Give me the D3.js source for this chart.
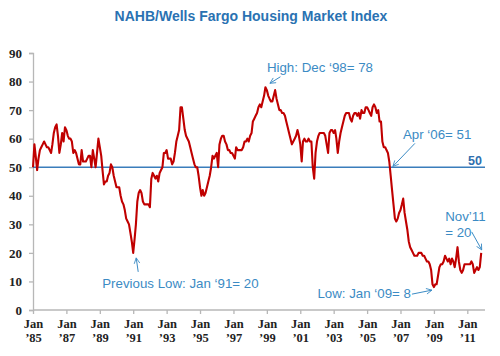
<!DOCTYPE html>
<html>
<head>
<meta charset="utf-8">
<script src="https://cdn.jsdelivr.net/npm/d3@7"></script>
<style>
  html, body { margin: 0; padding: 0; background: #ffffff; }
  svg { display: block; }
</style>
</head>
<body>
<svg id="chart" width="500" height="356"></svg>
<script>
// ---- DATA ----
const chartTitle = "NAHB/Wells Fargo Housing Market Index";
const startYear = 1985;           // first value = Jan 1985, monthly
const hmiValues = [
  // 1985
  50, 58, 54, 49, 53, 56, 57, 58, 59, 58, 57, 57,
  // 1986
  56, 55, 58, 62, 64, 65, 61, 55, 58, 62, 59, 64,
  // 1987
  63, 61, 60, 60, 59, 55, 56, 55, 53, 51, 51, 56,
  // 1988
  52, 52, 52, 53, 54, 54, 50, 56, 53, 50, 55, 60,
  // 1989
  57, 54, 49, 44, 45, 45, 47, 48, 51, 50, 47, 45,
  // 1990
  43, 43, 43, 40, 38, 37, 35, 32, 31, 30, 27, 24,
  // 1991
  20, 25, 30, 38, 41, 42, 41, 38, 37, 37, 37, 37,
  // 1992
  36, 46, 48, 47, 46, 47, 45, 48, 49, 50, 55, 55,
  // 1993
  56, 53, 53, 53, 51, 52, 55, 59, 61, 63, 71, 71,
  // 1994
  67, 63, 61, 60, 59, 57, 55, 53, 51, 50, 50, 47,
  // 1995
  43, 40, 42, 40, 41, 43, 45, 47, 50, 54, 53, 54,
  // 1996
  55, 50, 58, 60, 61, 61, 59, 58, 56, 56, 55, 55,
  // 1997
  54, 53, 57, 56, 56, 56, 56, 57, 59, 59, 60, 59,
  // 1998
  61, 62, 66, 67, 68, 69, 71, 72, 71, 73, 75, 78,
  // 1999
  77, 75, 74, 73, 73, 75, 77, 74, 72, 70, 70, 69,
  // 2000
  69, 68, 66, 64, 62, 60, 58, 59, 60, 61, 63, 61,
  // 2001
  58, 52, 59, 60, 59, 59, 60, 59, 59, 50, 46, 55,
  // 2002
  59, 61, 62, 62, 62, 62, 61, 58, 55, 62, 63, 63,
  // 2003
  62, 63, 60, 55, 59, 62, 64, 66, 68, 69, 69, 69,
  // 2004
  67, 66, 68, 69, 69, 68, 69, 67, 70, 69, 69, 71,
  // 2005
  71, 70, 69, 68, 71, 72, 71, 69, 70, 66, 66, 59,
  // 2006
  57, 57, 56, 55, 52, 47, 42, 37, 32, 31, 32, 34,
  // 2007
  35, 37, 39, 34, 31, 28, 24, 22, 21, 20, 19, 19,
  // 2008
  19, 20, 20, 20, 19, 19, 18, 17, 17, 16, 14, 9,
  // 2009
  8, 9, 9, 12, 15, 16, 16, 17, 19, 18, 17, 18,
  // 2010
  16, 18, 17, 15, 18, 22, 17, 14, 13, 14, 16, 16,
  // 2011 (Jan - Nov)
  16, 16, 16, 17, 16, 13, 14, 15, 14, 15, 20
];
const yTickValues = [0, 10, 20, 30, 40, 50, 60, 70, 80, 90];
const xTickYears = [1985, 1987, 1989, 1991, 1993, 1995, 1997, 1999, 2001, 2003, 2005, 2007, 2009, 2011];
const referenceValue = 50;
const annotationTexts = {
  high: "High: Dec \u201898= 78",
  prevLow: "Previous Low: Jan \u201891= 20",
  apr06: "Apr \u201806= 51",
  low09: "Low: Jan \u201809= 8",
  nov11a: "Nov\u201911",
  nov11b: "= 20"
};
const annotationPoints = {
  high: { year: 1998, month: 11, value: 78 },
  prevLow: { year: 1991, month: 0, value: 20 },
  apr06: { year: 2006, month: 3, value: 51 },
  low09: { year: 2009, month: 0, value: 8 },
  nov11: { year: 2011, month: 10, value: 20 }
};

// ---- LAYOUT ----
const svg = d3.select("#chart");
const mLeft = 33, mRight = 484, mTop = 53, mBottom = 310;

const data = hmiValues.map((v, i) => ({ date: new Date(startYear, i, 1), value: v }));

const x = d3.scaleTime()
  .domain([new Date(1985, 0, 1), new Date(2012, 0, 1)])
  .range([mLeft, mRight]);
const y = d3.scaleLinear().domain([0, 90]).range([mBottom, mTop]);

const axisColor = "#b7b7b7";
const lineRed = "#c00000";
const refBlue = "#3a7dbb";
const annBlue = "#3b8bc4";

// Title
svg.append("text")
  .attr("x", 251).attr("y", 20.5)
  .attr("text-anchor", "middle")
  .attr("font-family", "Liberation Sans, Arial, sans-serif")
  .attr("font-weight", "bold")
  .attr("font-size", 14)
  .attr("fill", "#2a72b2")
  .text(chartTitle);

// Y axis
const yAxis = d3.axisLeft(y).tickValues(yTickValues).tickSize(4).tickPadding(7);
const gy = svg.append("g").attr("transform", `translate(${mLeft},0)`).call(yAxis);
gy.select(".domain").attr("stroke", axisColor).attr("stroke-width", 1.3);
gy.selectAll(".tick line").attr("stroke", axisColor).attr("stroke-width", 1.3);
gy.selectAll(".tick text")
  .attr("font-family", "Liberation Serif, Times New Roman, serif")
  .attr("font-weight", "bold")
  .attr("font-size", 13)
  .attr("fill", "#222");

// X axis
const xAxis = d3.axisBottom(x)
  .tickValues(xTickYears.map(yr => new Date(yr, 0, 1)))
  .tickSize(4)
  .tickFormat(() => "");
const gx = svg.append("g").attr("transform", `translate(0,${mBottom})`).call(xAxis);
gx.select(".domain").attr("stroke", axisColor).attr("stroke-width", 1.3)
  .attr("d", `M${mLeft},0H${mRight + 1}`);
gx.selectAll(".tick line").attr("stroke", axisColor).attr("stroke-width", 1.3);
gx.selectAll(".tick text").remove();
gx.selectAll(".tick").each(function(d) {
  const g = d3.select(this);
  const style = s => s
    .attr("text-anchor", "middle")
    .attr("font-family", "Liberation Serif, Times New Roman, serif")
    .attr("font-weight", "bold")
    .attr("font-size", 12.5)
    .attr("fill", "#222");
  g.append("text").attr("x", 0).attr("y", 17.5).call(style).text("Jan");
  g.append("text").attr("x", 0).attr("y", 32).call(style)
    .text("\u2019" + String(d.getFullYear()).slice(2));
});

// Reference line at 50
svg.append("line")
  .attr("x1", mLeft).attr("x2", mRight + 1)
  .attr("y1", y(referenceValue)).attr("y2", y(referenceValue))
  .attr("stroke", refBlue).attr("stroke-width", 1.4);
svg.append("text")
  .attr("x", mRight - 2).attr("y", y(referenceValue) - 2)
  .attr("text-anchor", "end")
  .attr("font-family", "Liberation Sans, Arial, sans-serif")
  .attr("font-weight", "bold")
  .attr("font-size", 12.5)
  .attr("fill", "#2f6fae")
  .text(String(referenceValue));

// Data line
const line = d3.line().x(d => x(d.date)).y(d => y(d.value));
svg.append("path")
  .datum(data)
  .attr("fill", "none")
  .attr("stroke", lineRed)
  .attr("stroke-width", 2.1)
  .attr("stroke-linejoin", "round")
  .attr("d", line);

// Annotations
const defs = svg.append("defs");
defs.append("marker")
  .attr("id", "arrow")
  .attr("viewBox", "0 0 10 10")
  .attr("refX", 9).attr("refY", 5)
  .attr("markerWidth", 7).attr("markerHeight", 7)
  .attr("orient", "auto")
  .append("path")
  .attr("d", "M1,1L9,5L1,9")
  .attr("fill", "none")
  .attr("stroke", annBlue)
  .attr("stroke-width", 1.2);

function pt(key) {
  const p = annotationPoints[key];
  return [x(new Date(p.year, p.month, 1)), y(p.value)];
}
function arrow(key, tail, tip) {
  const [px, py] = pt(key);
  svg.append("line")
    .attr("x1", px + tail[0]).attr("y1", py + tail[1])
    .attr("x2", px + tip[0]).attr("y2", py + tip[1])
    .attr("stroke", annBlue).attr("stroke-width", 1)
    .attr("marker-end", "url(#arrow)");
}
function label(key, txt, off, anchor) {
  const [px, py] = pt(key);
  svg.append("text")
    .attr("x", px + off[0]).attr("y", py + off[1])
    .attr("text-anchor", anchor || "start")
    .attr("font-family", "Liberation Sans, Arial, sans-serif")
    .attr("font-size", 13.3)
    .attr("fill", annBlue)
    .text(txt);
}

label("high", annotationTexts.high, [1.5, -15]);
arrow("high", [15, -10.5], [4.5, -4]);

label("prevLow", annotationTexts.prevLow, [-31, 35]);
arrow("prevLow", [5, 19], [3, 5]);

label("apr06", annotationTexts.apr06, [15, -25]);
arrow("apr06", [27, -21], [5, 2]);

label("low09", annotationTexts.low09, [-23, 11], "end");
arrow("low09", [-22, 7], [-2, 3]);

label("nov11", annotationTexts.nov11a, [-36, -32]);
label("nov11", annotationTexts.nov11b, [-36, -16]);
arrow("nov11", [-9.5, -21], [0.5, -3]);
</script>
</body>
</html>
